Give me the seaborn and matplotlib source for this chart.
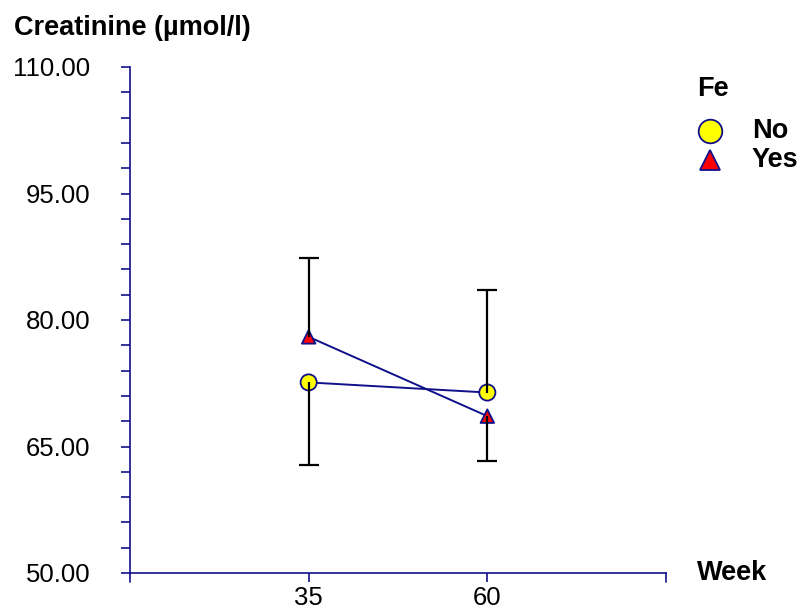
import matplotlib
matplotlib.use("Agg")
import matplotlib.pyplot as plt
from matplotlib.lines import Line2D
from matplotlib.ticker import FixedLocator, FormatStrFormatter
import numpy as np
import pandas as pd
import seaborn as sns

# Group means and error half-widths of creatinine by week and iron status
weeks = ["35", "60"]
groups = ["No", "Yes"]
no_mean = [72.6, 71.4]
yes_mean = [78.0, 68.6]
no_err = [9.8, 12.1]
yes_err = [9.3, 5.3]
y_ticks = [50, 65, 80, 95, 110]

sns.set_theme(style="white")
plt.rcParams["font.family"] = ["Liberation Sans", "DejaVu Sans"]
plt.rcParams["text.color"] = "black"
plt.rcParams["xtick.labelcolor"] = "black"
plt.rcParams["ytick.labelcolor"] = "black"

navy = "#10108a"
fills = {"No": "#ffff00", "Yes": "#ff0000"}
shapes = {"No": "o", "Yes": "^"}

pos = np.arange(1, len(weeks) + 1)
df = pd.DataFrame({
    "pos": np.concatenate([pos, pos]),
    "Week": weeks * 2,
    "Fe": ["No"] * len(weeks) + ["Yes"] * len(weeks),
    "value": no_mean + yes_mean,
    "err": no_err + yes_err,
})

fig = plt.figure(figsize=(7.99, 6.12), dpi=100)
ax = fig.add_axes([130 / 799, 1 - 573 / 612, (666 - 130) / 799, (573 - 67) / 612])

# connecting lines
sns.lineplot(data=df, x="pos", y="value", hue="Fe", palette={"No": navy, "Yes": navy},
             linewidth=1.4, legend=False, ax=ax, zorder=2)

# markers
sns.scatterplot(data=df, x="pos", y="value", hue="Fe", style="Fe", size="Fe",
                palette=fills, markers=shapes, sizes={"No": 135, "Yes": 95},
                edgecolor=navy, linewidth=1.3, legend=False, ax=ax, zorder=3)

# one-sided error bars: upward for the higher group, downward for the lower one
for w in range(len(weeks)):
    sub = df[df["Week"] == weeks[w]]
    hi = sub["value"].idxmax()
    for i, row in sub.iterrows():
        end = row["value"] + row["err"] if i == hi else row["value"] - row["err"]
        ax.vlines(row["pos"], row["value"], end, color="black", lw=1.6, zorder=4)
        ax.plot([row["pos"]], [end], marker="_", ms=14, mew=1.6, color="black", zorder=4)

ax.set_xlim(0, len(weeks) + 1)
ax.set_ylim(min(y_ticks), max(y_ticks))
ax.set_xticks(list(pos))
ax.set_xticklabels(weeks)
ax.yaxis.set_major_locator(FixedLocator(y_ticks))
ax.yaxis.set_minor_locator(FixedLocator(np.arange(min(y_ticks), max(y_ticks) + 0.1, 3)))
ax.yaxis.set_major_formatter(FormatStrFormatter("%.2f"))
ax.set_xlabel("")
ax.set_ylabel("")

for s in ["top", "right"]:
    ax.spines[s].set_visible(False)
for s in ["left", "bottom"]:
    ax.spines[s].set_color(navy)
    ax.spines[s].set_linewidth(1.2)

ax.tick_params(axis="y", which="both", direction="out", length=6.5, width=1.2,
               color=navy, labelsize=18.5, pad=22, left=True, labelcolor="black")
ax.tick_params(axis="x", which="major", direction="out", length=6.5, width=1.2,
               color=navy, labelsize=18.5, pad=3, bottom=True, labelcolor="black")

# end ticks at both ends of the x axis
ax.plot([0, 0], [0, -0.018], transform=ax.transAxes, color=navy, lw=1.2, clip_on=False)
ax.plot([1, 1], [0, -0.018], transform=ax.transAxes, color=navy, lw=1.2, clip_on=False)

fig.text(14 / 799, 1 - 28 / 612, "Creatinine (µmol/l)", fontsize=19.5, fontweight="bold",
         ha="left", va="center", color="black")
fig.text(697 / 799, 1 - 573 / 612, "Week", fontsize=19.5, fontweight="bold",
         ha="left", va="center", color="black")

# legend
fig.text(697 / 799, 1 - 89 / 612, "Fe", fontsize=19.5, fontweight="bold",
         ha="left", va="center", color="black")
leg_y = [131, 160]
leg_ms = {"No": 17, "Yes": 15}
for g, yy in zip(groups, leg_y):
    fig.add_artist(Line2D([710 / 799], [1 - yy / 612], transform=fig.transFigure,
                          linestyle="none", marker=shapes[g], markersize=leg_ms[g],
                          markerfacecolor=fills[g], markeredgecolor=navy,
                          markeredgewidth=1.3))
    fig.text(752 / 799, 1 - yy / 612, g, fontsize=19.5, fontweight="bold",
             ha="left", va="center", color="black")

fig.savefig("out.png", dpi=100)
